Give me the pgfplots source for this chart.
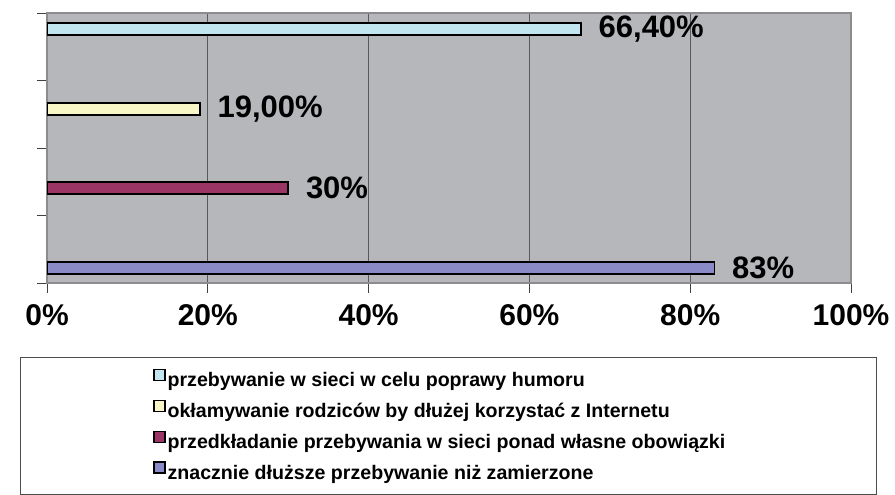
\documentclass[border=0pt]{standalone}
\usepackage{fontspec}
\setmainfont{Liberation Sans}
\usepackage{pgfplots}
\pgfplotsset{compat=1.18}
\definecolor{bgGray}{HTML}{B5B7BB}
\definecolor{cCyan}{HTML}{C2E6F0}
\definecolor{cYellow}{HTML}{F8F5C6}
\definecolor{cRed}{HTML}{9A3566}
\definecolor{cPurple}{HTML}{8A8AC6}
\newcommand{\lgd}[1]{\makebox[574pt][l]{\rule[-5pt]{0pt}{20pt}#1}}
\begin{document}
\begin{tikzpicture}[x=1pt,y=1pt]
\useasboundingbox (0,0) rectangle (895,495);
\begin{axis}[
  at={(47pt,212pt)}, anchor=south west,
  scale only axis, width=804pt, height=270pt,
  xmin=0, xmax=100, ymin=0, ymax=270,
  xtick={0,20,40,60,80,100},
  xticklabels={0\%,20\%,40\%,60\%,80\%,100\%},
  ytick={0,67.5,135,202.5,270},
  yticklabels={},
  xtick pos=bottom, ytick pos=left,
  tick align=outside,
  major tick length=10pt,
  tick style={line width=0.8pt, color=black!75},
  xmajorgrids,
  grid style={line width=0.8pt, color=black!65},
  axis line style={line width=1.2pt, color=black!45},
  axis background/.style={fill=bgGray},
  xticklabel style={font=\fontsize{30}{36}\selectfont\bfseries, yshift=-8pt},
  every axis plot/.append style={xbar, bar width=12pt, bar shift=0pt, draw=black, line width=1.6pt},
  nodes near coords style={font=\fontsize{31}{37}\selectfont\bfseries, inner sep=0pt, xshift=17pt, anchor=west, text=black},
  legend style={at={(0.4994,-0.274)}, anchor=north, draw=black!70, line width=0.8pt,
    inner xsep=133pt, inner ysep=11.5pt, row sep=9.5pt,
    font=\fontsize{19.6}{23}\selectfont\bfseries,
    cells={inner xsep=2pt, inner ysep=0pt}},
  legend cell align=left,
  legend image code/.code={\draw[#1, line width=1.2pt] (0.5pt,-0.5pt) rectangle (11.5pt,10.5pt);},
]
\addplot[fill=cCyan, nodes near coords={66,40\%}] coordinates {(66.4,254)};
\addlegendentry{\lgd{przebywanie w sieci w celu poprawy humoru}}
\addplot[fill=cYellow, nodes near coords={19,00\%}] coordinates {(19,174)};
\addlegendentry{\lgd{okłamywanie rodziców by dłużej korzystać z Internetu}}
\addplot[fill=cRed, nodes near coords={30\%}] coordinates {(30,95)};
\addlegendentry{\lgd{przedkładanie przebywania w sieci ponad własne obowiązki}}
\addplot[fill=cPurple, nodes near coords={83\%}] coordinates {(83,15)};
\addlegendentry{\lgd{znacznie dłuższe przebywanie niż zamierzone}}
\end{axis}
\end{tikzpicture}
\end{document}
